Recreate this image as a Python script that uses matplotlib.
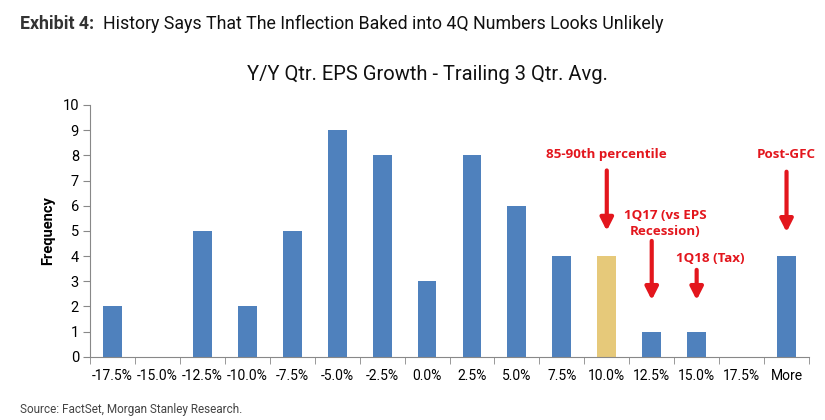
import matplotlib
matplotlib.use("Agg")
import matplotlib.pyplot as plt
from matplotlib import font_manager

# bins and counts
bins = ["-17.5%", "-15.0%", "-12.5%", "-10.0%", "-7.5%", "-5.0%", "-2.5%", "0.0%",
        "2.5%", "5.0%", "7.5%", "10.0%", "12.5%", "15.0%", "17.5%", "More"]
freq = [2, 0, 5, 2, 5, 9, 8, 3, 8, 6, 4, 4, 1, 1, 0, 4]
highlight = "10.0%"

BLUE = "#4F81BD"
GOLD = "#E6C97A"
RED = "#E3161D"

names = {f.name for f in font_manager.fontManager.ttflist}
narrow = "Liberation Sans Narrow" if "Liberation Sans Narrow" in names else "Roboto"
plt.rcParams["font.family"] = [narrow, "DejaVu Sans"]

fig = plt.figure(figsize=(8.25, 4.2), dpi=100)
ax = fig.add_axes([90/825, 1 - 356.7/420, (809 - 90)/825, (356.7 - 105)/420])

x = list(range(len(bins)))
colors = [GOLD if b == highlight else BLUE for b in bins]
ax.bar(x, freq, width=0.42, color=colors, zorder=2)

ax.set_xlim(-0.5, len(bins) - 0.5)
ax.set_ylim(0, 10)
ax.set_yticks(range(11))
ax.set_xticks(x)
ax.set_xticklabels(bins)
ax.set_xticks([i + 0.5 for i in range(-1, len(bins))], minor=True)
ax.tick_params(axis="x", which="major", length=0, pad=9, labelsize=10)
ax.tick_params(axis="x", which="minor", length=5, color="#888888")
ax.tick_params(axis="y", length=5, color="#888888", labelsize=10.5, pad=3)
for s in ["top", "right"]:
    ax.spines[s].set_visible(False)
for s in ["left", "bottom"]:
    ax.spines[s].set_color("#888888")
ax.set_ylabel("Frequency", fontweight="bold", fontsize=10.5, labelpad=5)

# annotations
ann_font = dict(color=RED, fontweight="bold", fontsize=9.6, ha="center", va="center",
                family=["Open Sans", "DejaVu Sans"])
arrow = dict(arrowstyle="-|>,head_length=0.75,head_width=0.38", color=RED, lw=3,
             shrinkA=0, shrinkB=0)

ax.text(11, 8.05, "85-90th percentile", **ann_font)
ax.annotate("", xy=(11, 5.0), xytext=(11, 7.4), arrowprops=arrow)

ax.text(15, 8.05, "Post-GFC", **ann_font)
ax.annotate("", xy=(15, 4.95), xytext=(15, 7.35), arrowprops=arrow)

ax.text(12.3, 5.3, "1Q17 (vs EPS\nRecession)", linespacing=1.25, **ann_font)
ax.annotate("", xy=(12, 2.25), xytext=(12, 4.6), arrowprops=arrow)

ax.text(13.3, 3.92, "1Q18 (Tax)", **ann_font)
ax.annotate("", xy=(13, 2.25), xytext=(13, 3.45), arrowprops=arrow)

# titles and source
fig.text(20/825, 1 - 24/420, "Exhibit 4:", fontsize=12.8, fontweight="bold",
         color="#333333", va="center")
fig.text(103/825, 1 - 24/420, "History Says That The Inflection Baked into 4Q Numbers Looks Unlikely",
         fontsize=12.8, color="#111111", va="center")
fig.text(427/825, 1 - 74/420, "Y/Y Qtr. EPS Growth - Trailing 3 Qtr. Avg.",
         fontsize=14.5, color="#111111", ha="center", va="center")
fig.text(20/825, 1 - 410/420, "Source: FactSet, Morgan Stanley Research.",
         fontsize=8.5, color="#444444", va="center", family=["Roboto", "DejaVu Sans"])

fig.savefig("out.png", dpi=100)
